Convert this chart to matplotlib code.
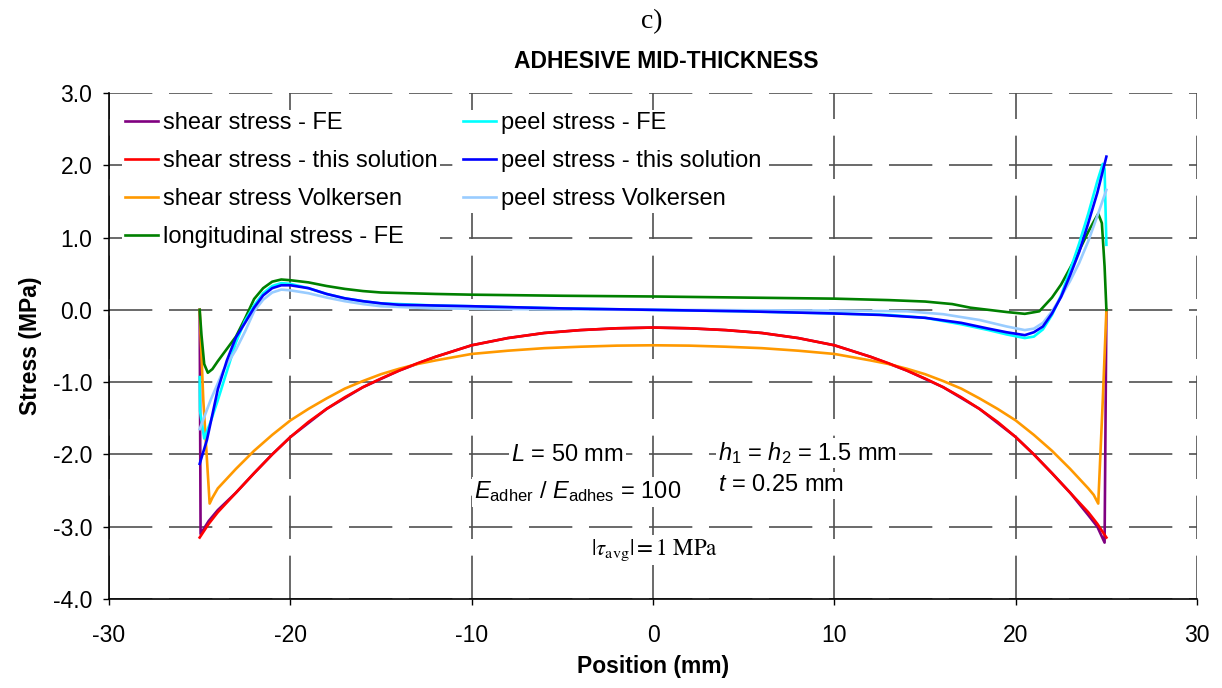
import matplotlib
matplotlib.use("Agg")
import matplotlib.pyplot as plt

plt.rcParams['font.family'] = ['Liberation Sans', 'DejaVu Sans']
plt.rcParams['mathtext.fontset'] = 'custom'
plt.rcParams['mathtext.rm'] = 'Liberation Sans'
plt.rcParams['mathtext.it'] = 'Liberation Sans:italic'

# shear stress - FE
x_shear_fe = [-25, -24.95, -24.5, -24, -23, -22, -21, -20, -18, -16, -14, -12, -10, -8, -6, -4, -2, 0,
              2, 4, 6, 8, 10, 12, 14, 16, 18, 20, 21, 22, 23, 24, 24.5, 24.9, 25]
y_shear_fe = [0, -3.1, -2.92, -2.77, -2.53, -2.26, -2.0, -1.76, -1.37, -1.07, -0.84, -0.65, -0.49, -0.39, -0.32, -0.28, -0.255, -0.245,
              -0.255, -0.28, -0.32, -0.39, -0.49, -0.65, -0.84, -1.07, -1.37, -1.76, -2.0, -2.26, -2.53, -2.84, -3.0, -3.22, 0]

# shear stress - this solution
x_shear_sol = [-25, -24.5, -24, -23, -22, -21, -20, -19, -18, -17, -16, -15, -14, -13, -12, -10, -8, -6, -4, -2, 0,
               2, 4, 6, 8, 10, 12, 13, 14, 15, 16, 17, 18, 19, 20, 21, 22, 23, 24, 24.5, 25]
y_shear_sol = [-3.15, -2.96, -2.8, -2.53, -2.26, -2.0, -1.76, -1.55, -1.37, -1.21, -1.07, -0.95, -0.84, -0.74, -0.65, -0.49, -0.39, -0.32, -0.28, -0.255, -0.245,
               -0.255, -0.28, -0.32, -0.39, -0.49, -0.65, -0.74, -0.84, -0.95, -1.07, -1.21, -1.37, -1.55, -1.76, -2.0, -2.26, -2.53, -2.8, -2.96, -3.15]

# shear stress Volkersen
x_shear_vk = [-25, -24.8, -24.45, -24.3, -24, -23, -22, -21, -20, -19, -18, -17, -16, -15, -14, -13, -12, -10, -8, -6, -4, -2, 0,
              2, 4, 6, 8, 10, 12, 13, 14, 15, 16, 17, 18, 19, 20, 21, 22, 23, 24, 24.3, 24.55, 24.8, 25]
y_shear_vk = [0, -1.25, -2.68, -2.6, -2.47, -2.2, -1.95, -1.73, -1.53, -1.37, -1.225, -1.09, -0.985, -0.89, -0.815, -0.75, -0.7, -0.61, -0.565, -0.53, -0.51, -0.495, -0.49,
              -0.495, -0.51, -0.53, -0.565, -0.61, -0.7, -0.75, -0.815, -0.89, -0.985, -1.09, -1.225, -1.37, -1.53, -1.73, -1.95, -2.2, -2.47, -2.56, -2.68, -1.25, 0]

# longitudinal stress - FE
x_long_fe = [-25, -24.9, -24.75, -24.55, -24.3, -24, -23.5, -23, -22.5, -22, -21.5, -21, -20.5, -20, -19, -18, -17, -16, -15, -12, -10, -5, 0,
             5, 10, 13, 15, 16.5, 17.5, 18.5, 19.5, 20.5, 21.3, 22, 22.5, 23, 23.5, 24, 24.3, 24.55, 24.75, 24.9, 25]
y_long_fe = [0, -0.35, -0.75, -0.87, -0.82, -0.71, -0.54, -0.37, -0.12, 0.15, 0.3, 0.39, 0.42, 0.41, 0.38, 0.33, 0.29, 0.26, 0.24, 0.22, 0.21, 0.195, 0.185,
             0.17, 0.155, 0.135, 0.115, 0.08, 0.03, 0.0, -0.03, -0.055, -0.02, 0.17, 0.35, 0.58, 0.82, 1.08, 1.22, 1.33, 1.2, 0.6, 0]

# peel stress - FE
x_peel_fe = [-25, -24.98, -24.75, -24.4, -24, -23.5, -23, -22.5, -22, -21.5, -21, -20.5, -20, -19, -18, -17, -16, -15, -12, -10, -5, 0,
             5, 10, 13, 15, 17, 18.5, 19.5, 20.5, 21, 21.5, 22, 22.5, 23, 23.5, 24, 24.5, 24.8, 24.9, 25]
y_peel_fe = [-0.93, -1.4, -1.78, -1.55, -1.25, -0.85, -0.45, -0.15, 0.06, 0.23, 0.33, 0.37, 0.36, 0.3, 0.22, 0.16, 0.12, 0.09, 0.06, 0.05, 0.02, 0.0,
             -0.02, -0.05, -0.07, -0.11, -0.2, -0.28, -0.34, -0.39, -0.37, -0.27, -0.07, 0.2, 0.55, 0.92, 1.33, 1.78, 2.02, 1.95, 0.9]

# peel stress - this solution
x_peel_sol = [-25, -24.6, -24, -23.5, -23, -22.5, -22, -21.5, -21, -20.5, -20, -19, -18, -17, -16, -15, -14, -12, -10, -5, 0,
              5, 10, 12.5, 15, 17, 18.5, 19.5, 20.5, 21, 21.5, 22, 22.5, 23, 23.5, 24, 24.5, 25]
y_peel_sol = [-2.13, -1.8, -1.1, -0.7, -0.38, -0.18, 0.03, 0.2, 0.3, 0.34, 0.34, 0.3, 0.22, 0.16, 0.12, 0.09, 0.07, 0.06, 0.05, 0.02, 0.0,
              -0.02, -0.05, -0.07, -0.11, -0.18, -0.26, -0.31, -0.35, -0.31, -0.23, -0.05, 0.18, 0.48, 0.8, 1.2, 1.62, 2.12]

# peel stress Volkersen
x_peel_vk = [-25, -24.4, -23.7, -23, -22.5, -22, -21.5, -21, -20.5, -20, -19, -18, -17, -16, -15, -12, -10, -5, 0,
             5, 10, 14, 16, 18, 19.5, 20.5, 21, 21.5, 22, 22.5, 23, 23.5, 24, 24.5, 25]
y_peel_vk = [-1.65, -1.25, -0.84, -0.55, -0.3, -0.02, 0.14, 0.24, 0.28, 0.27, 0.23, 0.17, 0.12, 0.08, 0.05, 0.02, 0.015, 0.005, 0.0,
             -0.005, -0.01, -0.02, -0.06, -0.14, -0.23, -0.28, -0.26, -0.18, -0.02, 0.18, 0.4, 0.65, 0.95, 1.3, 1.66]

x_ticks = [-30, -20, -10, 0, 10, 20, 30]
y_ticks = [3.0, 2.0, 1.0, 0.0, -1.0, -2.0, -3.0, -4.0]

fig = plt.figure(figsize=(12.22, 6.88), dpi=100)
ax = fig.add_axes([0.0892, 0.1294, 0.8904, 0.7354])

series = [
    (x_shear_fe, y_shear_fe, '#800080', 'shear stress - FE'),
    (x_shear_sol, y_shear_sol, '#FF0000', 'shear stress - this solution'),
    (x_shear_vk, y_shear_vk, '#FF9900', 'shear stress Volkersen'),
    (x_long_fe, y_long_fe, '#008000', 'longitudinal stress - FE'),
    (x_peel_fe, y_peel_fe, '#00FFFF', 'peel stress - FE'),
    (x_peel_sol, y_peel_sol, '#0000FF', 'peel stress - this solution'),
    (x_peel_vk, y_peel_vk, '#99CCFF', 'peel stress Volkersen'),
]
zorders = [3, 4, 3, 3, 3, 4, 3]
handles = []
for (xs, ys, c, lab), z in zip(series, zorders):
    h, = ax.plot(xs, ys, color=c, lw=1.9, label=lab, zorder=z, solid_joinstyle='round')
    handles.append(h)

ax.set_xlim(-30, 30)
ax.set_ylim(-4, 3)
ax.set_xticks(x_ticks)
ax.set_yticks(y_ticks)
ax.set_yticklabels([f"{v:.1f}" for v in y_ticks])
ax.set_xticklabels([str(v) for v in x_ticks])
ax.tick_params(axis='y', direction='out', length=4, width=1, pad=8, labelsize=16.5)
ax.tick_params(axis='x', direction='out', length=4, width=1, pad=14, labelsize=16.5)
for s in ['top', 'right']:
    ax.spines[s].set_visible(False)
for s in ['left', 'bottom']:
    ax.spines[s].set_linewidth(1.2)
ax.grid(True, color='#505050', lw=1.2, linestyle=(0, (26, 10)), zorder=0)
ax.set_axisbelow(True)

ax.set_xlabel('Position (mm)', fontsize=16.5, fontweight='bold', labelpad=6)
ax.set_ylabel('Stress (MPa)', fontsize=16.5, fontweight='bold', labelpad=8)

leg_kw = dict(frameon=True, facecolor='white', edgecolor='none', framealpha=1, fontsize=17,
              handlelength=1.4, handletextpad=0.21, labelspacing=0.68, borderpad=0.1, borderaxespad=0)
leg1 = ax.legend(handles=handles[:4], loc='upper left', bbox_to_anchor=(0.0121, 0.967), **leg_kw)
ax.add_artist(leg1)
ax.legend(handles=handles[4:], loc='upper left', bbox_to_anchor=(0.3228, 0.967), **leg_kw)

box = dict(facecolor='white', edgecolor='none', pad=1.5)
ax.text(-4.74, -2.01, r'$L$ = 50 mm', fontsize=17, ha='center', va='center', bbox=box, zorder=2)
ax.text(-4.14, -2.52, r'$E_{\rm adher}$ / $E_{\rm adhes}$ = 100', fontsize=17, ha='center', va='center', bbox=box, zorder=2)
ax.text(3.6, -1.985, r'$h_1$ = $h_2$ = 1.5 mm', fontsize=17, ha='left', va='center', bbox=box, zorder=2)
ax.text(3.6, -2.43, r'$t$ = 0.25 mm', fontsize=17, ha='left', va='center', bbox=box, zorder=2)
ax.text(0.1, -3.32, r'$|\tau_{\rm avg}| = 1\ \rm MPa$', fontsize=16.5, ha='center', va='center',
        math_fontfamily='stix', bbox=box, zorder=2)

fig.text(0.5335, 1 - 22 / 688, 'c)', fontsize=20, family='Liberation Serif', ha='center', va='center')
fig.text(0.545, 1 - 62 / 688, 'ADHESIVE MID-THICKNESS', fontsize=16.5, fontweight='bold', ha='center', va='center')

fig.savefig('out.png', dpi=100)
